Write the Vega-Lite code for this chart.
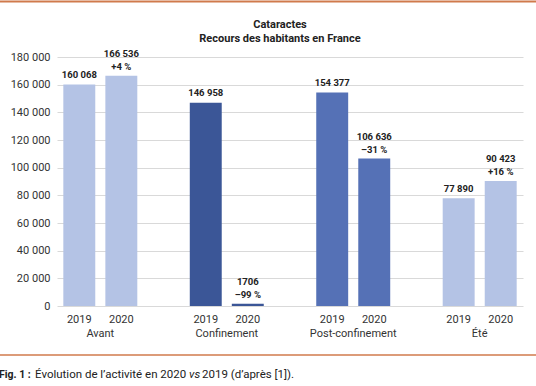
{
  "$schema": "https://vega.github.io/schema/vega-lite/v6.json",
  "width": 466,
  "height": 249,
  "autosize": {"type": "none"},
  "padding": {"left": 57, "top": 57, "right": 13, "bottom": 80},
  "background": "white",
  "config": {
    "view": {"stroke": null},
    "locale": {"number": {"decimal": ",", "thousands": " ", "grouping": [3], "currency": ["", " €"]}}
  },
  "datasets": {
    "bars": [
      {"period": "Avant", "year": "2019", "value": 160068, "label": "160 068", "pct": null},
      {"period": "Avant", "year": "2020", "value": 166536, "label": "166 536", "pct": "+4 %"},
      {"period": "Confinement", "year": "2019", "value": 146958, "label": "146 958", "pct": null},
      {"period": "Confinement", "year": "2020", "value": 1706, "label": "1706", "pct": "–99 %"},
      {"period": "Post-confinement", "year": "2019", "value": 154377, "label": "154 377", "pct": null},
      {"period": "Post-confinement", "year": "2020", "value": 106636, "label": "106 636", "pct": "–31 %"},
      {"period": "Été", "year": "2019", "value": 77890, "label": "77 890", "pct": null},
      {"period": "Été", "year": "2020", "value": 90423, "label": "90 423", "pct": "+16 %"}
    ]
  },
  "layer": [
    {
      "data": {"name": "bars"},
      "encoding": {
        "x": {
          "field": "period", "type": "nominal",
          "sort": ["Avant", "Confinement", "Post-confinement", "Été"],
          "scale": {"paddingInner": 0.415, "paddingOuter": 0.05},
          "axis": {"title": null, "domain": false, "ticks": false, "labelPadding": 21, "labelFontSize": 11, "labelFont": "Roboto", "labelColor": "#333333", "labelAngle": 0}
        },
        "xOffset": {"field": "year", "type": "nominal", "scale": {"paddingInner": 0.24, "paddingOuter": 0}},
        "y": {
          "field": "value", "type": "quantitative",
          "scale": {"domain": [0, 180000]},
          "axis": {"title": null, "domain": false, "ticks": false, "labelPadding": 7, "labelFontSize": 11, "labelFont": "Roboto", "labelColor": "#333333", "gridColor": "#d9d9d9", "labelOverlap": false, "values": [0, 20000, 40000, 60000, 80000, 100000, 120000, 140000, 160000, 180000], "format": ",d"}
        }
      },
      "layer": [
        {
          "mark": {"type": "bar"},
          "encoding": {
            "color": {
              "field": "period", "type": "nominal",
              "scale": {"domain": ["Avant", "Confinement", "Post-confinement", "Été"], "range": ["#b4c3e5", "#3b5697", "#5571b6", "#b4c3e5"]},
              "legend": null
            }
          }
        },
        {
          "transform": [{"filter": "datum.year == '2019'"}],
          "mark": {"type": "text", "baseline": "middle", "dy": -9.5, "font": "Roboto", "fontWeight": "bold", "fontSize": 9.5, "color": "#222222"},
          "encoding": {
            "text": {"field": "label", "type": "nominal"}
          }
        },
        {
          "transform": [{"filter": "datum.year == '2020'"}],
          "mark": {"type": "text", "baseline": "middle", "dy": -21.5, "font": "Roboto", "fontWeight": "bold", "fontSize": 9.5, "color": "#222222"},
          "encoding": {
            "text": {"field": "label", "type": "nominal"}
          }
        },
        {
          "transform": [{"filter": "isValid(datum.pct)"}],
          "mark": {"type": "text", "baseline": "middle", "dy": -8.5, "font": "Roboto", "fontWeight": "bold", "fontSize": 9.5, "color": "#222222"},
          "encoding": {
            "text": {"field": "pct", "type": "nominal"}
          }
        },
        {
          "mark": {"type": "text", "baseline": "middle", "dy": 14, "font": "Roboto", "fontSize": 11, "color": "#333333"},
          "encoding": {
            "y": {"datum": 0, "type": "quantitative", "axis": {"title": null, "domain": false, "ticks": false, "labelPadding": 7, "labelFontSize": 11, "labelFont": "Roboto", "labelColor": "#333333", "gridColor": "#d9d9d9", "labelOverlap": false, "values": [0, 20000, 40000, 60000, 80000, 100000, 120000, 140000, 160000, 180000], "format": ",d"}},
            "text": {"field": "year", "type": "nominal"}
          }
        }
      ]
    },
    {
      "data": {"values": [{}]},
      "layer": [
        {
          "mark": {"type": "rule", "color": "#d07a4c", "strokeWidth": 2},
          "encoding": {
            "x": {"datum": -12.232, "type": "quantitative", "scale": {"domain": [0, 100], "nice": false, "zero": false}, "axis": null},
            "x2": {"datum": 102.79},
            "y": {"datum": 220120, "type": "quantitative", "axis": null}
          }
        },
        {
          "mark": {"type": "rule", "color": "#d07a4c", "strokeWidth": 1.5},
          "encoding": {
            "x": {"datum": -12.232, "type": "quantitative"},
            "x2": {"datum": 102.79},
            "y": {"datum": -35422, "type": "quantitative", "axis": null}
          }
        },
        {
          "mark": {"type": "text", "text": "Cataractes", "font": "Roboto", "fontWeight": "bold", "fontSize": 11, "color": "#222222", "baseline": "middle", "align": "center"},
          "encoding": {
            "x": {"datum": 47.854, "type": "quantitative"},
            "y": {"datum": 203133, "type": "quantitative", "axis": null}
          }
        },
        {
          "mark": {"type": "text", "text": "Recours des habitants en France", "font": "Roboto", "fontWeight": "bold", "fontSize": 11, "color": "#222222", "baseline": "middle", "align": "center"},
          "encoding": {
            "x": {"datum": 47.854, "type": "quantitative"},
            "y": {"datum": 193373, "type": "quantitative", "axis": null}
          }
        },
        {
          "mark": {"type": "text", "text": "Fig. 1 :", "font": "Roboto", "fontWeight": "bold", "fontSize": 10.5, "color": "#222222", "baseline": "middle", "align": "left"},
          "encoding": {
            "x": {"datum": -12.446, "type": "quantitative"},
            "y": {"datum": -49880, "type": "quantitative", "axis": null}
          }
        },
        {
          "mark": {"type": "text", "text": "Évolution de l’activité en 2020", "font": "Roboto", "fontSize": 11.5, "color": "#222222", "baseline": "middle", "align": "left"},
          "encoding": {
            "x": {"datum": -4.721, "type": "quantitative"},
            "y": {"datum": -49880, "type": "quantitative", "axis": null}
          }
        },
        {
          "mark": {"type": "text", "text": "vs", "font": "Roboto", "fontStyle": "italic", "fontSize": 11.5, "color": "#222222", "baseline": "middle", "align": "left"},
          "encoding": {
            "x": {"datum": 28.326, "type": "quantitative"},
            "y": {"datum": -49880, "type": "quantitative", "axis": null}
          }
        },
        {
          "mark": {"type": "text", "text": "2019 (d’après [1]).", "font": "Roboto", "fontSize": 11.5, "color": "#222222", "baseline": "middle", "align": "left"},
          "encoding": {
            "x": {"datum": 31.116, "type": "quantitative"},
            "y": {"datum": -49880, "type": "quantitative", "axis": null}
          }
        }
      ]
    }
  ],
  "resolve": {"scale": {"x": "independent"}, "axis": {"y": "independent"}}
}
